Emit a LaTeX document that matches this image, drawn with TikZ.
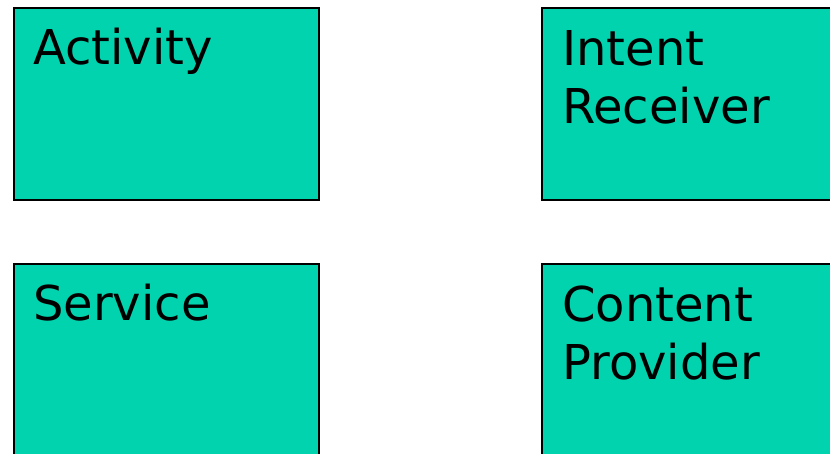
\documentclass[tikz,border=0pt]{standalone}
\usepackage{fontspec}
\setmainfont{DejaVu Sans}
\definecolor{boxfill}{RGB}{0,211,173}
\begin{document}
\begin{tikzpicture}[x=1pt,y=-1pt,
  comp/.style={draw=black, fill=boxfill, line width=2pt, rectangle, anchor=north west, inner sep=0pt},
  lbl/.style={anchor=base west, inner sep=0pt, align=left, font=\fontsize{48}{58}\selectfont}]
\useasboundingbox (0,0) rectangle (830,453);
\clip (0,0) rectangle (830,453);
\node[comp, minimum width=305pt, minimum height=192pt] (act) at (13,7) {};
\node[comp, minimum width=305pt, minimum height=192pt] (ir) at (541,7) {};
\node[comp, minimum width=305pt, minimum height=200pt] (srv) at (13,263) {};
\node[comp, minimum width=305pt, minimum height=200pt] (cp) at (541,263) {};
\node[lbl] (actt) at ([xshift=20pt,yshift=-57pt]act.north west) {Activity};
\node[lbl] (irt) at ([xshift=21pt,yshift=-116pt]ir.north west) {Intent\\Receiver};
\node[lbl] (srvt) at ([xshift=20pt,yshift=-57pt]srv.north west) {Service};
\node[lbl] (cpt) at ([xshift=21pt,yshift=-116pt]cp.north west) {Content\\Provider};
\end{tikzpicture}
\end{document}
